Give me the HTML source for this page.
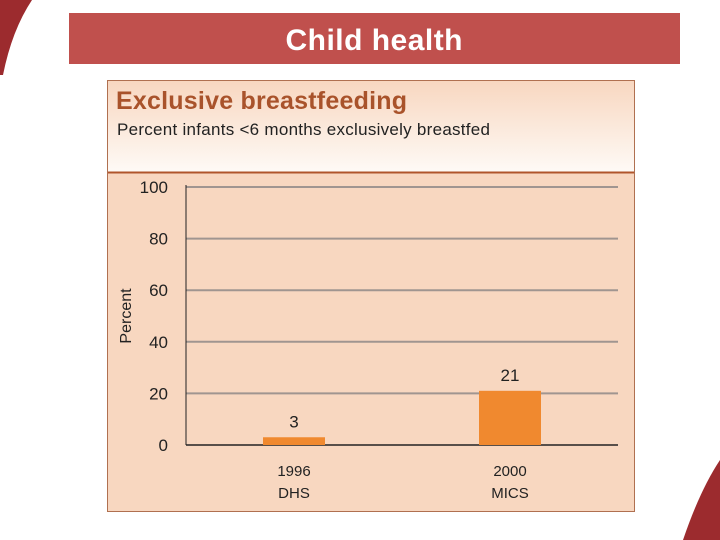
<!DOCTYPE html>
<html><head><meta charset="utf-8"><style>
body{margin:0;width:720px;height:540px;background:#fff;position:relative;overflow:hidden;font-family:"Liberation Sans",sans-serif}
</style></head><body>
<svg width="720" height="540" style="position:absolute;left:0;top:0">
<defs><linearGradient id="hg" x1="0" y1="0" x2="0" y2="1"><stop offset="0" stop-color="#f8d7c0"/><stop offset="1" stop-color="#fefaf6"/></linearGradient></defs>
<path d="M0,0 L32,0 Q12,30 3,75 L0,75 Z" fill="#9c2b2e"/>
<path d="M720,460 Q700,490 683,540 L720,540 Z" fill="#9c2b2e"/>
<rect x="69" y="13" width="611" height="51" fill="#c0504d"/>
<text x="374" y="50" text-anchor="middle" font-size="30" font-weight="bold" fill="#fff" textLength="177">Child health</text>
<rect x="107.5" y="80.5" width="527" height="431" fill="#f8d7c0" stroke="#b07050"/>
<rect x="108" y="81" width="526" height="91" fill="url(#hg)"/>
<line x1="108" y1="172.5" x2="634" y2="172.5" stroke="#b0552b" stroke-width="2"/>
<text x="116" y="109" font-size="25" font-weight="bold" fill="#a9532b" textLength="291">Exclusive breastfeeding</text>
<text x="117" y="135" font-size="17" fill="#222" textLength="373">Percent infants &lt;6 months exclusively breastfed</text>
<text transform="translate(131,316) rotate(-90)" text-anchor="middle" font-size="16" fill="#222">Percent</text>
<g id="plot"></g>
</svg>
<script>
const categories=["1996|DHS","2000|MICS"];
const values=[3,21];
const ticks=[0,20,40,60,80,100];
const X0=186,X1=618,Y0=445,Y1=187;
const y=v=>Y0-(v/100)*(Y0-Y1);
const band=(X1-X0)/categories.length;
const xc=i=>X0+band*(i+0.5);
const NS="http://www.w3.org/2000/svg";
const g=document.getElementById('plot');
function mk(t,a){const e=document.createElementNS(NS,t);for(const k in a)e.setAttribute(k,a[k]);g.appendChild(e);return e;}
ticks.forEach(t=>{
 if(t>0){const l=mk('line',{x1:X0,x2:X1,y1:y(t),y2:y(t),stroke:'#a09590','stroke-width':2});
 
 }
 const tx=mk('text',{x:168,y:y(t)+6,'text-anchor':'end','font-size':17,fill:'#222'});tx.textContent=t;
 
 
});
const ax=mk('line',{x1:X0,x2:X0,y1:Y1-2,y2:Y0,stroke:'#222','stroke-width':1});


const bx=mk('line',{x1:X0,x2:X1,y1:Y0,y2:Y0,stroke:'#222','stroke-width':1.5});


values.forEach((v,i)=>{
 const bw=62;
 const r=mk('rect',{x:xc(i)-bw/2,y:y(v),width:bw,height:Y0-y(v),fill:'#f0892f'});
 
 
 const vl=mk('text',{x:xc(i),y:y(v)-10,'text-anchor':'middle','font-size':17,fill:'#222'});vl.textContent=v;
 
 
 const [a,b]=categories[i].split('|');
 const t1=mk('text',{x:xc(i),y:476,'text-anchor':'middle','font-size':15,fill:'#222'});t1.textContent=a;
 
 
 const t2=mk('text',{x:xc(i),y:498,'text-anchor':'middle','font-size':15,fill:'#222'});t2.textContent=b;
 
 
});
</script>
</body></html>
